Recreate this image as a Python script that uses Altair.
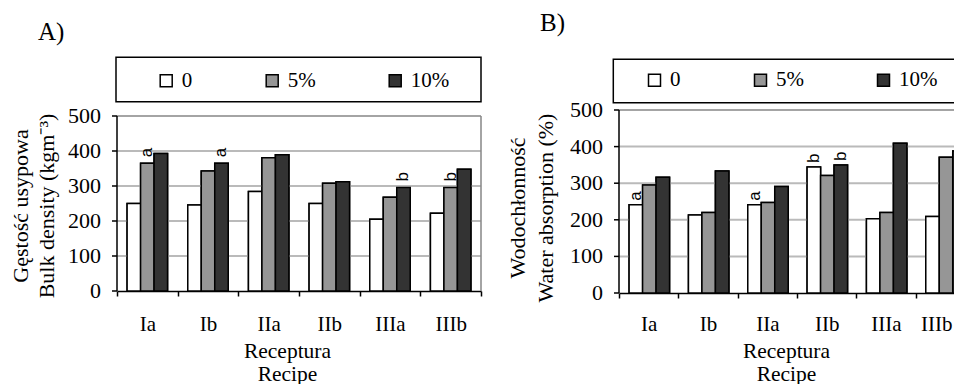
import altair as alt
import pandas as pd

recipes = ["Ia", "Ib", "IIa", "IIb", "IIIa", "IIIb"]
levels = ["0", "5%", "10%"]
level_colors = ["#ffffff", "#969696", "#333333"]
y_ticks = [0, 100, 200, 300, 400, 500]

# A) Bulk density (kg m-3)
density_0 = [250, 246, 284, 250, 205, 222]
density_5 = [365, 343, 381, 308, 268, 296]
density_10 = [393, 365, 389, 312, 296, 348]
density_notes = [("Ia", "5%", "a"), ("Ib", "10%", "a"), ("IIIa", "10%", "b"), ("IIIb", "5%", "b")]

# B) Water absorption (%)
absorption_0 = [241, 213, 241, 344, 203, 209]
absorption_5 = [295, 220, 247, 321, 220, 371]
absorption_10 = [316, 333, 291, 350, 409, 388]
absorption_notes = [("Ia", "0", "a"), ("IIa", "0", "a"), ("IIb", "0", "b"), ("IIb", "10%", "b")]

SERIF = "Liberation Serif"
SANS = "Liberation Sans"


def to_long(v0, v5, v10):
    rows = []
    for i, r in enumerate(recipes):
        for lev, vals in zip(levels, (v0, v5, v10)):
            rows.append({"recipe": r, "level": lev, "value": vals[i]})
    return pd.DataFrame(rows)


def to_notes(df, notes):
    rows = []
    for r, lev, t in notes:
        v = df[(df.recipe == r) & (df.level == lev)].value.iloc[0]
        rows.append({"recipe": r, "level": lev, "value": int(v), "letter": t})
    return pd.DataFrame(rows)


one = pd.DataFrame({"k": [0]})
ticks_df = pd.DataFrame({"tick": y_ticks, "label": [str(t) for t in y_ticks]})
grid_df = pd.DataFrame({"gtick": y_ticks[1:-1]})
frame_df = pd.DataFrame({"top": [y_ticks[-1]], "bottom": [y_ticks[0]]})


def panel(df, notes_df, W, H, ymax, ytitle, yt_x, yt_y, tag, tag_y, leg_x, leg_y, box,
          title_x, title_y, label_pad, ann_dx, last_shift):
    yscale = alt.Scale(domain=[0, ymax], nice=False, zero=True)
    label_offset = (
        alt.condition(f"datum.value == '{recipes[-1]}'", alt.value(last_shift), alt.value(0))
        if last_shift else 0
    )
    x = alt.X(
        "recipe:N", sort=recipes,
        scale=alt.Scale(domain=recipes, paddingInner=0, paddingOuter=0),
        axis=alt.Axis(
            title=["Receptura", "Recipe"], labelAngle=0, tickBand="extent",
            labelBaseline="alphabetic", labelPadding=label_pad, grid=False,
            labelOffset=label_offset,
            titleX=title_x, titleY=title_y, titleBaseline="alphabetic",
            titleAlign="center", titleAngle=0, titleLineHeight=23,
            labelFont=SERIF, labelFontSize=21, titleFont=SERIF, titleFontSize=21.5,
        ),
    )
    y = alt.Y("value:Q", scale=yscale, axis=None)
    xo = alt.XOffset(
        "level:N", sort=levels,
        scale=alt.Scale(domain=levels, paddingInner=0, paddingOuter=0.75),
    )
    fill = alt.Fill(
        "level:N", sort=levels,
        scale=alt.Scale(domain=levels, range=level_colors),
        legend=alt.Legend(
            title=None, orient="none", legendX=leg_x, legendY=leg_y,
            direction="horizontal", symbolType="square", symbolSize=144,
            symbolStrokeColor="black", symbolStrokeWidth=1.5, symbolOpacity=1,
            labelFont=SERIF, labelFontSize=21, labelColor="black", labelOffset=5,
            columnPadding=69, padding=0,
        ),
    )

    bars = alt.Chart(df).mark_bar(stroke="black", strokeWidth=1.5).encode(
        x=x, y=y, xOffset=xo, fill=fill
    )
    # horizontal grid from the tick list through the y scale, then the bars again on top of it
    grid = alt.Chart(grid_df).mark_rule(color="#bababa", strokeWidth=2).encode(
        x=alt.value(0), x2=alt.value(W), y=alt.Y("gtick:Q", axis=None)
    )
    bars_top = alt.Chart(df).mark_bar(stroke="black", strokeWidth=1.5).encode(
        x=x, y=y, xOffset=xo, fill=fill
    )
    tick_marks = alt.Chart(ticks_df).mark_rule(color="black", strokeWidth=1.5).encode(
        x=alt.value(-5), x2=alt.value(0), y=alt.Y("tick:Q", axis=None)
    )
    tick_labels = alt.Chart(ticks_df).mark_text(
        align="right", baseline="middle", font=SERIF, fontSize=22, color="black"
    ).encode(x=alt.value(-16), y=alt.Y("tick:Q", axis=None), text="label:N")
    y_line = alt.Chart(frame_df).mark_rule(color="black", strokeWidth=1.5).encode(
        x=alt.value(0), y=alt.Y("bottom:Q", axis=None), y2="top:Q"
    )
    top_rule = alt.Chart(frame_df).mark_rule(color="#868686", strokeWidth=1.5).encode(
        x=alt.value(0), x2=alt.value(W), y=alt.Y("top:Q", axis=None)
    )
    right_rule = alt.Chart(frame_df).mark_rule(color="#868686", strokeWidth=1.5).encode(
        x=alt.value(W), y=alt.Y("top:Q", axis=None), y2="bottom:Q"
    )
    y_title = [
        alt.Chart(one).mark_text(
            text=line, angle=270, align="center", baseline="alphabetic",
            font=SERIF, fontSize=22, color="black",
        ).encode(x=alt.value(xx), y=alt.value(yt_y))
        for line, xx in zip(ytitle, yt_x)
    ]
    notes = alt.Chart(notes_df).mark_text(
        angle=270, align="left", baseline="middle", dx=ann_dx,
        font=SANS, fontSize=17, color="black",
    ).encode(x=x, y=y, xOffset=xo, text="letter:N")
    legend_box = alt.Chart(one).mark_rect(
        fill="white", fillOpacity=0, stroke="black", strokeWidth=1.5
    ).encode(
        x=alt.value(box[0]), x2=alt.value(box[1]),
        y=alt.value(box[2]), y2=alt.value(box[3]),
    )
    tag_text = alt.Chart(one).mark_text(
        text=tag, font=SERIF, fontSize=25, align="left", baseline="alphabetic", color="black"
    ).encode(x=alt.value(-79), y=alt.value(tag_y))

    return alt.layer(
        bars, grid, bars_top, notes, top_rule, right_rule, y_line, tick_marks, tick_labels,
        *y_title, legend_box, tag_text,
    ).properties(width=W, height=H)


dens = to_long(density_0, density_5, density_10)
absn = to_long(absorption_0, absorption_5, absorption_10)


def build(shift_b):
    # panel A: plot area 175 px tall below a 6 px gap, so the view is 181 px and its domain reaches 500*181/175
    chart_a = panel(
        dens, to_notes(dens, density_notes), 364, 181, 500 * 181 / 175,
        ["Gęstość usypowa", "Bulk density (kgm⁻³)"], (-89, -63), 96, "A)", -70,
        38.7, -40, (-1, 364, -52.7, -8.3), 170, 66, 34, 6, 0,
    )
    chart_b = panel(
        absn, to_notes(absn, absorption_notes), 356, 183, 500,
        ["Wodochłonność", "Water absorption (%)"], (-94, -66), 98, "B)", -79.5,
        25, -40.5, (-5.7, 372, -50.7, -7.3), 167, 64, 32, 4, shift_b,
    )
    return alt.hconcat(chart_a, chart_b, spacing=138, bounds="flush").resolve_scale(
        fill="independent"
    ).resolve_legend(fill="independent").properties(
        autosize=alt.AutoSizeParams(type="none"),
        padding={"left": 109, "top": 102, "right": 837, "bottom": 274},
        background="white",
    ).configure_view(stroke=None).configure_axis(
        labelColor="black", titleFontWeight="normal", titleColor="black",
        domainColor="black", domainWidth=1.5, tickColor="black", tickWidth=1.5, tickSize=5,
    )


try:
    chart = build(-9)
    chart.to_dict()
except Exception:
    chart = build(0)

chart.save("out.html", embed_options={"renderer": "svg", "actions": False})
